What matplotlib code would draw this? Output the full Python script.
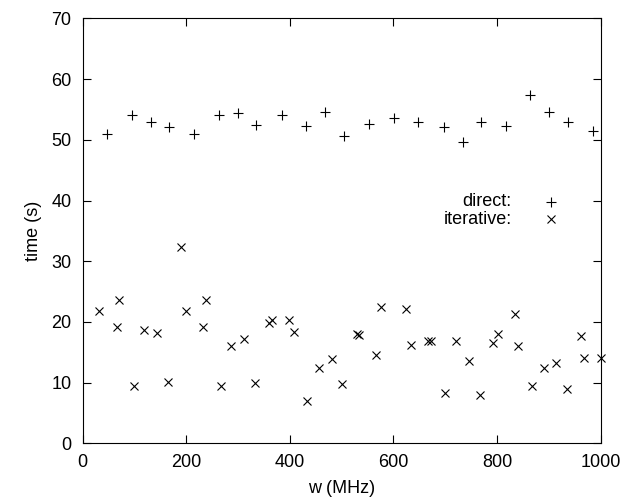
import matplotlib
matplotlib.use("Agg")
import matplotlib.pyplot as plt

plt.rcParams['font.family'] = ['Liberation Sans', 'DejaVu Sans']

# direct solver timings
direct_w = [46, 95, 132, 167, 215, 263, 299, 335, 384, 432, 467, 504,
            552, 601, 648, 697, 734, 769, 817, 864, 901, 937, 985]
direct_t = [50.9, 54.1, 53.0, 52.2, 50.9, 54.1, 54.5, 52.5, 54.1, 52.3, 54.6, 50.7,
            52.6, 53.6, 52.9, 52.2, 49.7, 53.0, 52.3, 57.4, 54.6, 52.9, 51.5]

# iterative solver timings
iter_w = [32, 66, 71, 99, 119, 143, 165, 190, 199, 232, 238, 267, 287, 311,
          333, 360, 366, 399, 408, 434, 456, 481, 501, 529, 534, 567, 576,
          624, 634, 666, 672, 700, 720, 746, 768, 792, 802, 835, 841, 867,
          890, 914, 935, 962, 968, 1000]
iter_t = [21.8, 19.2, 23.6, 9.5, 18.7, 18.2, 10.1, 32.4, 21.8, 19.2, 23.6, 9.5, 16.1, 17.2,
          9.9, 19.9, 20.3, 20.3, 18.3, 7.0, 12.4, 13.9, 9.7, 18.0, 17.8, 14.5, 22.5,
          22.1, 16.2, 16.8, 16.9, 8.3, 16.8, 13.6, 7.9, 16.6, 18.0, 21.3, 16.1, 9.5,
          12.4, 13.2, 9.0, 17.7, 14.0, 14.0]

fs = 13

fig = plt.figure(figsize=(6.3, 5.0), dpi=100)
ax = fig.add_axes([0.1313, 0.1134, 0.8219, 0.8496])

ax.plot(direct_w, direct_t, linestyle='none', marker='+', color='black',
        markersize=6.5, markeredgewidth=0.8, clip_on=False)
ax.plot(iter_w, iter_t, linestyle='none', marker='x', color='black',
        markersize=6, markeredgewidth=0.8, clip_on=False)

ax.set_xlim(0, 1000)
ax.set_ylim(0, 70)
ax.set_xticks(range(0, 1001, 200))
ax.set_yticks(range(0, 71, 10))
ax.tick_params(direction='in', length=5.8, width=0.8, top=True, right=True,
               labelsize=fs)
ax.tick_params(axis='x', pad=8)
ax.tick_params(axis='y', pad=8)
for s in ax.spines.values():
    s.set_linewidth(0.8)

ax.set_xlabel('w (MHz)', fontsize=fs, labelpad=6)
ax.set_ylabel('time (s)', fontsize=fs, labelpad=7)

# legend in gnuplot style: right-aligned labels with sample markers
ax.text(0.8285, 0.5687, 'direct:', transform=ax.transAxes, ha='right', va='center', fontsize=fs)
ax.text(0.8285, 0.527, 'iterative:', transform=ax.transAxes, ha='right', va='center', fontsize=fs)
ax.plot([0.9044], [0.5687], transform=ax.transAxes, marker='+', color='black',
        markersize=6.5, markeredgewidth=0.8, linestyle='none')
ax.plot([0.9044], [0.527], transform=ax.transAxes, marker='x', color='black',
        markersize=6, markeredgewidth=0.8, linestyle='none')

fig.savefig('out.png', dpi=100)
